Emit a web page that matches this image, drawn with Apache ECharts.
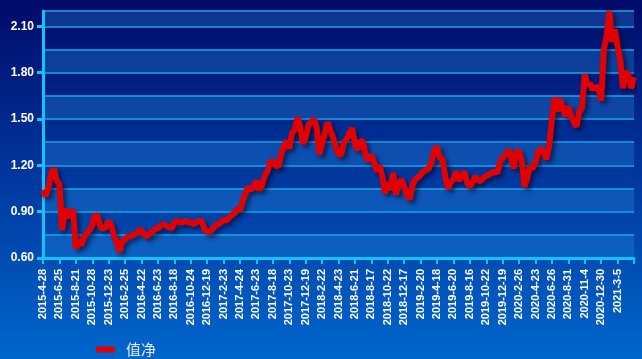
<!DOCTYPE html>
<html>
<head>
<meta charset="utf-8">
<script src="https://cdn.jsdelivr.net/npm/echarts@6/dist/echarts.min.js"></script>
<style>
html,body{margin:0;padding:0;}
#chart{width:642px;height:359px;}
</style>
</head>
<body>
<div id="chart"></div>
<script>
const labelDates = ['2015-4-28','2015-6-25','2015-8-21','2015-10-28','2015-12-23','2016-2-25','2016-4-22','2016-6-23','2016-8-18','2016-10-24','2016-12-19','2017-2-23','2017-4-24','2017-6-23','2017-8-18','2017-10-23','2017-12-19','2018-2-22','2018-4-23','2018-6-21','2018-8-17','2018-10-22','2018-12-17','2019-2-20','2019-4-18','2019-6-20','2019-8-16','2019-10-22','2019-12-19','2020-2-26','2020-4-23','2020-6-26','2020-8-31','2020-11-4','2020-12-30','2021-3-5'];
const stepsPerLabel = 6;
const seriesName = '值净';
const navValues = [
  1.04, 1.00, 1.06, 1.15, 1.18, 1.10,
  1.08, 0.78, 0.92, 0.86, 0.90, 0.91,
  0.66, 0.72, 0.68, 0.74, 0.76, 0.78,
  0.81, 0.88, 0.87, 0.80, 0.79, 0.80,
  0.84, 0.81, 0.74, 0.70, 0.64, 0.71,
  0.72, 0.74, 0.74, 0.75, 0.76, 0.78,
  0.78, 0.75, 0.74, 0.76, 0.77, 0.79,
  0.79, 0.81, 0.82, 0.81, 0.80, 0.79,
  0.83, 0.84, 0.83, 0.83, 0.84, 0.83,
  0.83, 0.82, 0.83, 0.84, 0.84, 0.79,
  0.77, 0.77, 0.79, 0.81, 0.82, 0.83,
  0.85, 0.84, 0.86, 0.88, 0.89, 0.92,
  0.91, 0.97, 1.02, 1.06, 1.04, 1.06,
  1.10, 1.04, 1.07, 1.13, 1.16, 1.22,
  1.23, 1.20, 1.19, 1.27, 1.32, 1.36,
  1.31, 1.41, 1.43, 1.51, 1.45, 1.34,
  1.38, 1.46, 1.48, 1.50, 1.45, 1.27,
  1.34, 1.41, 1.48, 1.43, 1.38, 1.32,
  1.27, 1.27, 1.35, 1.37, 1.41, 1.44,
  1.34, 1.30, 1.36, 1.35, 1.26, 1.23,
  1.27, 1.22, 1.16, 1.20, 1.13, 1.02,
  1.09, 1.04, 1.15, 1.01, 1.08, 1.11,
  1.06, 1.01, 0.98, 1.07, 1.11, 1.12,
  1.14, 1.16, 1.17, 1.18, 1.22, 1.30,
  1.32, 1.25, 1.24, 1.13, 1.05, 1.09,
  1.11, 1.16, 1.10, 1.13, 1.16, 1.09,
  1.06, 1.09, 1.13, 1.10, 1.10, 1.12,
  1.13, 1.14, 1.15, 1.16, 1.15, 1.22,
  1.25, 1.27, 1.30, 1.26, 1.18, 1.29,
  1.29, 1.23, 1.06, 1.12, 1.19, 1.18,
  1.22, 1.29, 1.31, 1.28, 1.24, 1.33,
  1.50, 1.64, 1.55, 1.63, 1.57, 1.52,
  1.58, 1.52, 1.48, 1.45, 1.55, 1.57,
  1.79, 1.72, 1.73, 1.69, 1.71, 1.70,
  1.62, 1.95, 2.04, 2.20, 2.00, 2.08,
  1.97, 1.88, 1.70, 1.81, 1.78, 1.70, 1.77
];
const yTickValues = [0.6, 0.9, 1.2, 1.5, 1.8, 2.1];
const yMin = 0.6, yMax = 2.2, yGridStep = 0.15;

// build category list: each labelled date followed by intermediate sample points
const categories = [];
labelDates.forEach(function (d) {
  for (let k = 0; k < stepsPerLabel; k++) {
    categories.push(k === 0 ? d : d + ' +' + k);
  }
});
categories.push('end');

const chart = echarts.init(document.getElementById('chart'), null, {renderer: 'canvas'});
const cyan = '#12c4f6';
chart.setOption({
  animation: false,
  backgroundColor: {
    type: 'linear', x: 0, y: 0, x2: 0, y2: 1,
    colorStops: [
      {offset: 0, color: '#000a68'},
      {offset: 0.45, color: '#00349a'},
      {offset: 1, color: '#0066cc'}
    ]
  },
  grid: {left: 43, right: 8, top: 11, bottom: 101},
  legend: {
    left: 91, top: 337,
    icon: 'roundRect',
    itemWidth: 19, itemHeight: 6,
    textStyle: {color: '#e6ecf6', fontSize: 15, fontFamily: 'Noto Sans CJK SC', padding: [0, 0, 0, 6]},
    data: [seriesName]
  },
  xAxis: {
    type: 'category',
    boundaryGap: false,
    data: categories,
    axisLine: {lineStyle: {color: cyan, width: 3}},
    axisTick: {
      show: true, length: 6,
      interval: function (i) { return i % stepsPerLabel === 0; },
      lineStyle: {color: cyan, width: 2}
    },
    axisLabel: {
      rotate: 90,
      margin: 11,
      interval: function (i) { return i % stepsPerLabel === 0 && i < labelDates.length * stepsPerLabel; },
      color: '#ffffff',
      fontSize: 11,
      fontWeight: 'bold',
      fontFamily: 'Liberation Sans',
      padding: [0, 0, 7, 0]
    },
    splitLine: {show: false}
  },
  yAxis: [{
    type: 'value',
    min: yMin, max: yMax, interval: yGridStep,
    axisLine: {show: false},
    axisTick: {show: false},
    axisLabel: {show: false},
    splitLine: {show: true, lineStyle: {color: '#1aa6e6', width: 1.5}},
    splitArea: {show: true, areaStyle: {color: ['rgba(40,140,225,0.32)', 'rgba(0,0,0,0)']}}
  }, {
    type: 'value',
    position: 'left',
    offset: 0,
    min: yMin, max: yMax,
    axisLine: {show: true, lineStyle: {color: cyan, width: 3}},
    axisTick: {show: true, length: 6, customValues: yTickValues, lineStyle: {color: cyan, width: 3}},
    axisLabel: {
      customValues: yTickValues,
      color: '#ffffff', fontSize: 12, fontWeight: 'bold', fontFamily: 'Liberation Sans', margin: 9,
      formatter: function (v) { return v.toFixed(2); }
    },
    splitLine: {show: false},
    splitArea: {show: false}
  }],
  series: [{
    name: seriesName,
    type: 'line',
    yAxisIndex: 0,
    data: navValues,
    symbol: 'none',
    clip: false,
    color: '#e00000',
    lineStyle: {
      color: '#e00000', width: 6,
      shadowColor: 'rgba(0,0,30,0.55)', shadowBlur: 4, shadowOffsetX: 3, shadowOffsetY: 3
    },
    itemStyle: {color: '#e00000'}
  }]
});
</script>
</body>
</html>
